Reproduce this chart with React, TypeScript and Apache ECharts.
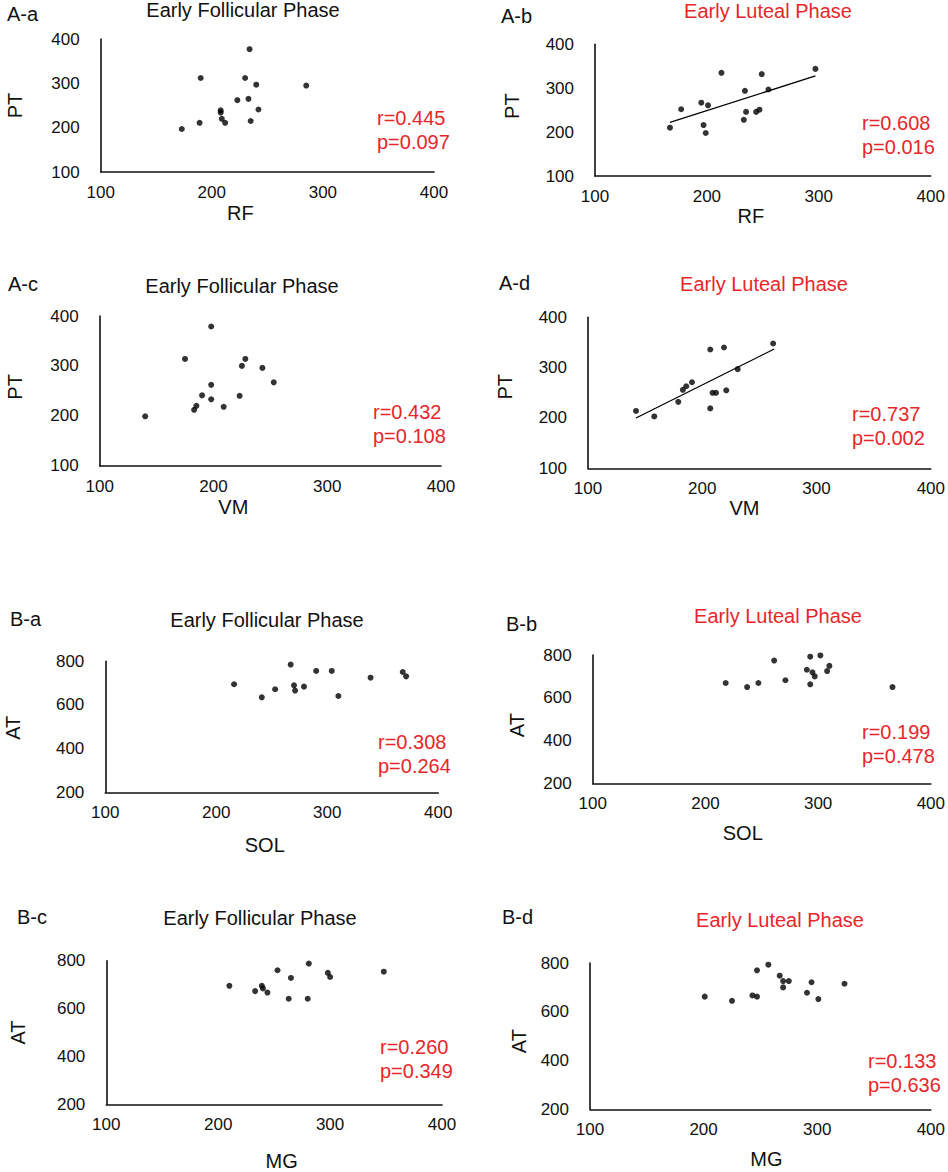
import React, { useEffect, useRef } from 'react';
import * as echarts from 'echarts';

const RED = '#e8262a';
const INK = '#111111';
const FONT = '"Liberation Sans", Arial, Helvetica, sans-serif';

// ---- data ----
const aaRfPt: [number, number][] = [
  [173, 197], [189, 211], [190, 312], [208, 239], [208, 234], [209, 220], [212, 211],
  [223, 262], [230, 312], [233, 265], [234, 377], [235, 215], [240, 297], [242, 241], [285, 295],
];
const abRfPt: [number, number][] = [
  [167, 210], [177, 252], [195, 267], [201, 261], [197, 216], [199, 198], [213, 335],
  [233, 228], [234, 294], [235, 246], [244, 246], [247, 251], [249, 332], [255, 297], [297, 344],
];
const abTrend: [number, number][] = [[167, 222], [297, 328]];
const acVmPt: [number, number][] = [
  [140, 199], [175, 314], [198, 379], [183, 212], [185, 220], [190, 241], [198, 262],
  [198, 233], [209, 218], [223, 240], [225, 300], [228, 314], [243, 296], [253, 267],
];
const adVmPt: [number, number][] = [
  [142, 214], [158, 203], [179, 232], [183, 256], [186, 263], [191, 271], [207, 336],
  [207, 219], [209, 250], [212, 250], [219, 340], [221, 255], [231, 297], [262, 348],
];
const adTrend: [number, number][] = [[142, 200], [263, 337]];
const baSolAt: [number, number][] = [
  [216, 695], [241, 635], [253, 672], [267, 785], [270, 690], [271, 666], [279, 684],
  [290, 756], [304, 756], [310, 641], [339, 725], [368, 751], [371, 731],
];
const bbSolAt: [number, number][] = [
  [218, 669], [237, 650], [247, 669], [261, 774], [271, 682], [290, 731], [293, 792],
  [293, 663], [295, 719], [297, 700], [302, 798], [308, 725], [310, 749], [366, 650],
];
const bcMgAt: [number, number][] = [
  [210, 695], [233, 673], [239, 695], [240, 684], [244, 667], [253, 760], [263, 641],
  [265, 728], [280, 641], [281, 788], [298, 749], [300, 732], [348, 754],
];
const bdMgAt: [number, number][] = [
  [201, 662], [225, 645], [243, 667], [247, 662], [247, 770], [257, 793], [267, 748],
  [270, 726], [270, 700], [275, 726], [291, 678], [295, 721], [301, 652], [324, 715],
];

const panelLabels = ['A-a', 'A-b', 'A-c', 'A-d', 'B-a', 'B-b', 'B-c', 'B-d'];
const phaseTitles = [
  'Early Follicular Phase', 'Early Luteal Phase', 'Early Follicular Phase', 'Early Luteal Phase',
  'Early Follicular Phase', 'Early Luteal Phase', 'Early Follicular Phase', 'Early Luteal Phase',
];
const xNames = ['RF', 'RF', 'VM', 'VM', 'SOL', 'SOL', 'MG', 'MG'];
const yNames = ['PT', 'PT', 'PT', 'PT', 'AT', 'AT', 'AT', 'AT'];
const rValues = ['r=0.445', 'r=0.608', 'r=0.432', 'r=0.737', 'r=0.308', 'r=0.199', 'r=0.260', 'r=0.133'];
const pValues = ['p=0.097', 'p=0.016', 'p=0.108', 'p=0.002', 'p=0.264', 'p=0.478', 'p=0.349', 'p=0.636'];
const xTicks = [100, 400, 100];
const yTicksPT = [100, 400, 100];
const yTicksAT = [200, 800, 200];

const seriesData = [aaRfPt, abRfPt, acVmPt, adVmPt, baSolAt, bbSolAt, bcMgAt, bdMgAt];
const trends: ([number, number][] | null)[] = [null, abTrend, null, adTrend, null, null, null, null];

// ---- layout ----
type Layout = {
  grid: [number, number, number, number];
  label: [number, number];
  title: [number, number];
  stat: [number, number];
  xGap: number;
  yGap: number;
  xShift: number; // horizontal offset of x-axis name from axis centre (px)
  yShift: number; // vertical offset of y-axis name from axis centre (px, + = down)
};
const layouts: Layout[] = [
  { grid: [100.7, 39, 333.3, 133], label: [7, 14], title: [243, 10], stat: [377, 118], xGap: 31, yGap: 76, xShift: -27, yShift: 0 },
  { grid: [595, 44.3, 335.7, 131.7], label: [501, 16], title: [768, 11], stat: [862, 123], xGap: 29, yGap: 73.5, xShift: -12, yShift: -4 },
  { grid: [99.7, 316, 341.3, 149.7], label: [8, 284], title: [242, 286], stat: [373, 412], xGap: 31, yGap: 75, xShift: -37, yShift: -4 },
  { grid: [588, 317.3, 346, 151], label: [499, 283], title: [764, 284], stat: [852, 414], xGap: 28.7, yGap: 73, xShift: -15, yShift: -6 },
  { grid: [105.3, 661.3, 333, 131], label: [10, 619], title: [267, 620], stat: [378, 742], xGap: 42.7, yGap: 82, xShift: -7, yShift: 1 },
  { grid: [592.7, 655, 339.6, 128.3], label: [506, 624], title: [778, 616], stat: [862, 732], xGap: 39.7, yGap: 65.7, xShift: -19, yShift: 6 },
  { grid: [106.3, 960.7, 335.7, 144.6], label: [17, 917], title: [260, 918], stat: [380, 1047], xGap: 46.7, yGap: 78, xShift: 7.5, yShift: 0 },
  { grid: [590, 963, 344, 146.3], label: [502, 917], title: [780, 920], stat: [868, 1061], xGap: 39.7, yGap: 61, xShift: 6, yShift: 5 },
];

function buildOption() {
  const grids: any[] = [];
  const xAxes: any[] = [];
  const yAxes: any[] = [];
  const series: any[] = [];
  const graphics: any[] = [];

  layouts.forEach((L, i) => {
    const [left, top, width, height] = L.grid;
    grids.push({ left, top, width, height, containLabel: false });
    const yT = i < 4 ? yTicksPT : yTicksAT;
    const axisCommon = {
      type: 'value',
      gridIndex: i,
      axisLine: { show: true, lineStyle: { color: INK, width: 1.6 } },
      axisTick: { show: false },
      splitLine: { show: false },
      nameLocation: 'middle',
    };
    const xs = L.xShift;
    const ys = L.yShift;
    xAxes.push({
      ...axisCommon,
      min: xTicks[0], max: xTicks[1], interval: xTicks[2],
      name: xNames[i],
      nameGap: L.xGap,
      nameTextStyle: {
        fontSize: 20, color: INK, fontFamily: FONT,
        padding: xs < 0 ? [0, -2 * xs, 0, 0] : [0, 0, 0, 2 * xs],
      },
      axisLabel: { fontSize: 17, color: INK, fontFamily: FONT, margin: 12, showMinLabel: true, showMaxLabel: true },
    });
    yAxes.push({
      ...axisCommon,
      min: yT[0], max: yT[1], interval: yT[2],
      name: yNames[i],
      nameGap: L.yGap,
      nameTextStyle: {
        fontSize: 20, color: INK, fontFamily: FONT,
        padding: ys < 0 ? [0, 0, 0, -2 * ys] : [0, 2 * ys, 0, 0],
      },
      axisLabel: { fontSize: 17, color: INK, fontFamily: FONT, margin: 21, showMinLabel: true, showMaxLabel: true },
    });
    series.push({
      type: 'scatter',
      xAxisIndex: i,
      yAxisIndex: i,
      data: seriesData[i],
      symbol: 'circle',
      symbolSize: 6,
      itemStyle: { color: '#000' },
      silent: true,
    });
    const tr = trends[i];
    if (tr) {
      series.push({
        type: 'line',
        xAxisIndex: i,
        yAxisIndex: i,
        data: tr,
        symbol: 'none',
        lineStyle: { color: '#000', width: 1.3 },
        silent: true,
      });
    }
    graphics.push({
      type: 'text', x: L.label[0], y: L.label[1],
      style: { text: panelLabels[i], fontSize: 20, fill: INK, fontFamily: FONT, align: 'left', verticalAlign: 'middle' },
    });
    graphics.push({
      type: 'text', x: L.title[0], y: L.title[1],
      style: {
        text: phaseTitles[i], fontSize: 20, fill: i % 2 === 1 ? RED : INK, fontFamily: FONT,
        align: 'center', verticalAlign: 'middle',
      },
    });
    graphics.push({
      type: 'text', x: L.stat[0], y: L.stat[1],
      style: { text: rValues[i], fontSize: 20, fill: RED, fontFamily: FONT, align: 'left', verticalAlign: 'middle' },
    });
    graphics.push({
      type: 'text', x: L.stat[0], y: L.stat[1] + 24,
      style: { text: pValues[i], fontSize: 20, fill: RED, fontFamily: FONT, align: 'left', verticalAlign: 'middle' },
    });
  });

  return {
    animation: false,
    backgroundColor: '#ffffff',
    grid: grids,
    xAxis: xAxes,
    yAxis: yAxes,
    series,
    graphic: graphics,
  };
}

export default function App() {
  const ref = useRef<HTMLDivElement>(null);
  useEffect(() => {
    document.body.style.margin = '0';
    if (!ref.current) return;
    const chart = echarts.init(ref.current, null, { renderer: 'svg' });
    chart.setOption(buildOption() as any);
    return () => chart.dispose();
  }, []);
  return <div ref={ref} style={{ width: 948, height: 1172, background: '#fff' }} />;
}
